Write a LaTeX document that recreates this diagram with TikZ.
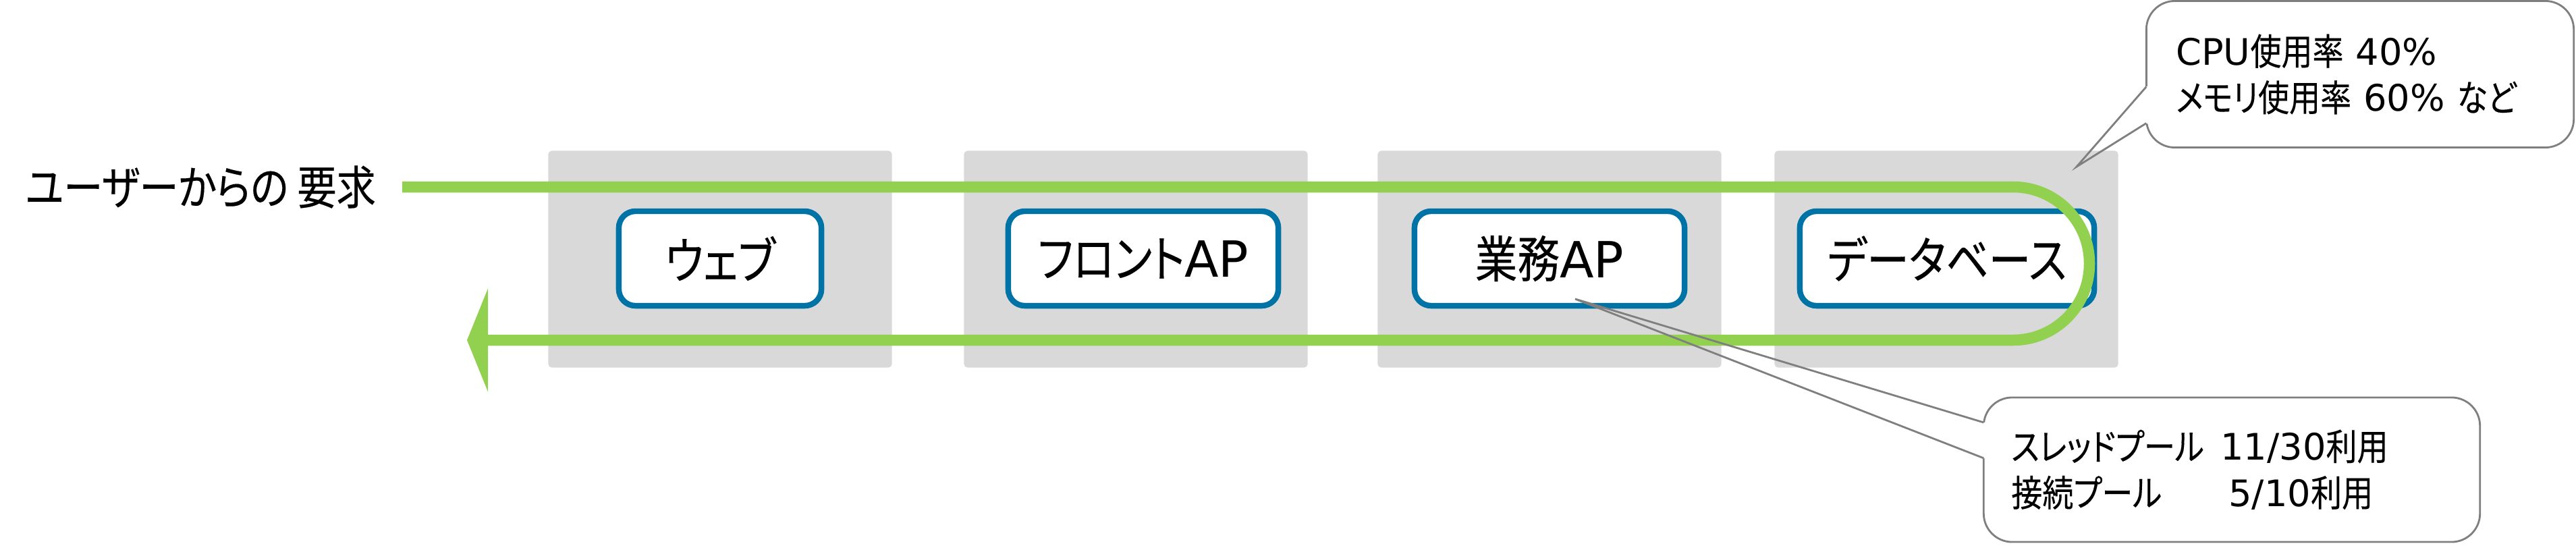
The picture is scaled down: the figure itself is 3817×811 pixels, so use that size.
\documentclass[tikz,border=0pt]{standalone}
\usepackage{fontspec}
\setmainfont{DejaVu Sans}
\newfontfamily\jp[RawFeature={+palt}, FakeStretch=0.85, FakeBold=0.25]{Noto Sans CJK JP}
\usetikzlibrary{arrows.meta,calc}

\definecolor{tiergray}{HTML}{D9D9D9}
\definecolor{srvblue}{HTML}{0073A6}
\definecolor{flowgreen}{HTML}{92D050}
\definecolor{notegray}{HTML}{7F7F7F}

\tikzset{
  tier/.style={fill=tiergray, rounded corners=1.5pt, minimum width=5.09cm,
    minimum height=3.21cm, inner sep=0pt},
  srv/.style={draw=srvblue, line width=2.4pt, fill=white, rounded corners=7pt,
    minimum height=1.4cm, inner sep=0pt, font=\fontsize{21}{25}\selectfont},
  note/.style={draw=notegray, line width=0.8pt, fill=white, rounded corners=12pt,
    inner sep=0pt, outer sep=0pt, align=left, font=\fontsize{15.4}{19.5}\selectfont},
  pointer/.style={draw=notegray, line width=0.8pt},
  flow/.style={draw=flowgreen, line width=0.165cm,
    -{Triangle[length=0.31cm,width=1.52cm]}},
}

\begin{document}
\begin{tikzpicture}[x=0.01cm,y=-0.01cm]
  \useasboundingbox (0,0) rectangle (3817,811);
  % Schichten
  \foreach \x [count=\i] in {1067,1683,2296,2884}
    \node[tier] (tier\i) at (\x,384) {};
  % Server
  \node[srv, minimum width=3.0cm] (web) at (1067,383) {\jp ウェブ};
  \node[srv, minimum width=4.0cm] (front) at (1694,383) {{\jp フロント}AP};
  \node[srv, minimum width=4.0cm] (biz) at (2296,383) {{\jp 業務}AP};
  \node[srv, minimum width=4.36cm] (db) at (2885,383) {\jp データベース};
  % Anfrage
  \node[anchor=west, inner sep=0pt, font=\fontsize{19.5}{23}\selectfont\jp]
    (req) at (37,277) {ユーザーからの 要求};
  \coordinate (flowin) at (596,277);
  \coordinate (flowout) at (692,504);
  \coordinate (uturn) at (3096,390);
  \draw[flow, rounded corners=1.13cm] (flowin) -- (flowin -| uturn)
    -- (flowout -| uturn) -- (flowout);
  % Hinweise
  \node[note, text width=5.45cm, minimum width=6.33cm, minimum height=2.17cm]
    (cpu) at (3497,110)
    {CPU{\jp 使用率} 40\%\\{\jp メモリ使用率} 60\% {\jp など}};
  \node[note, text width=6.53cm, minimum width=7.35cm, minimum height=2.14cm]
    (pool) at (3307,696)
    {\makebox[3.10cm][l]{\jp スレッドプール}11/30{\jp 利用}\\
     \makebox[3.22cm][l]{\jp 接続プール}5/10{\jp 利用}};
  \coordinate (cputip) at (3077,247);
  \coordinate (pooltip) at (2334,443);
  \coordinate (c1) at ($(cpu.north west)!0.585!(cpu.south west)$);
  \coordinate (c2) at ($(cpu.north west)!0.834!(cpu.south west)$);
  \coordinate (p1) at ($(pool.north west)!0.173!(pool.south west)$);
  \coordinate (p2) at ($(pool.north west)!0.42!(pool.south west)$);
  \draw[white, line width=2pt] (c1) -- (c2);
  \draw[white, line width=2pt] (p1) -- (p2);
  \draw[pointer] (c1) -- (cputip) -- (c2);
  \draw[pointer] (p1) -- (pooltip) -- (p2);
\end{tikzpicture}
\end{document}
